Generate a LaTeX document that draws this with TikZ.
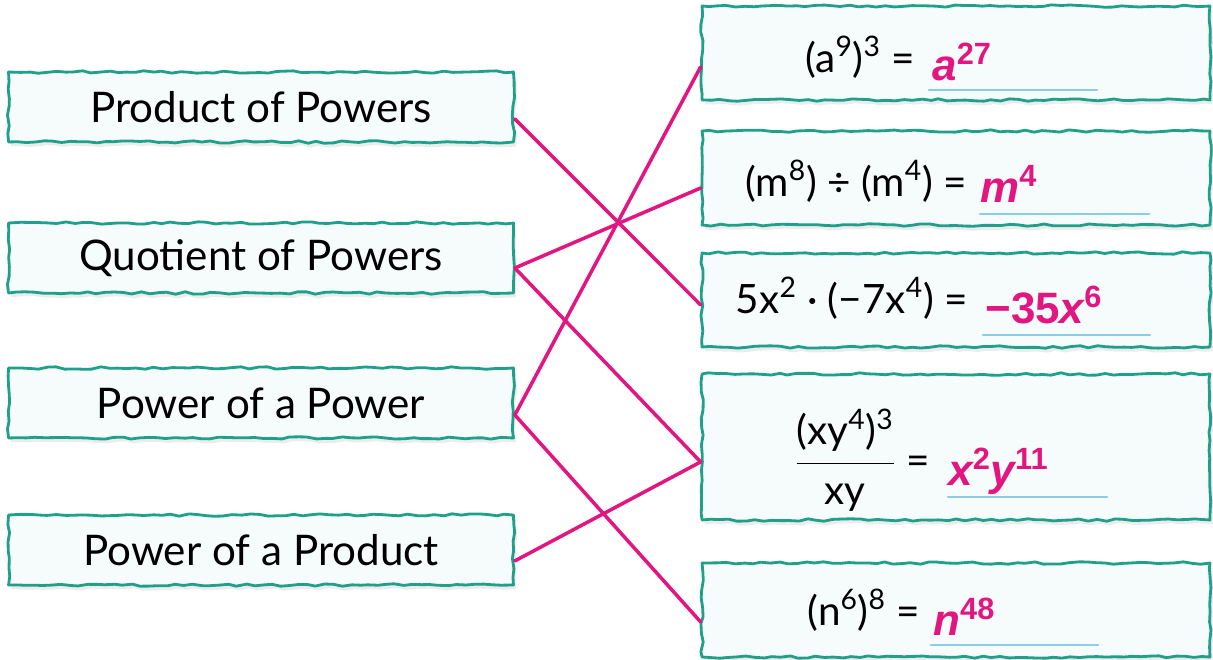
\documentclass[tikz,border=0pt]{standalone}
\usepackage{amsmath}
\usepackage{fontspec}
\setmainfont{Lato}
\newfontfamily\ansfont{Liberation Sans}
\usetikzlibrary{decorations.pathmorphing,shadows,positioning}
\definecolor{boxteal}{RGB}{32,160,138}
\definecolor{boxfill}{RGB}{246,252,252}
\definecolor{linkmag}{RGB}{226,22,128}
\definecolor{blankblue}{RGB}{140,205,230}
\newcommand{\up}[1]{\textsuperscript{#1}}
\tikzset{
  lbox/.style={draw=boxteal, line width=1.6pt, fill=boxfill,
    minimum width=10.1cm, minimum height=1.4cm,
    decorate, decoration={random steps, segment length=5pt, amplitude=0.7pt},
    drop shadow={opacity=0.15, shadow xshift=1.5pt, shadow yshift=-2.5pt},
    font=\fontsize{24}{28}\selectfont},
  rbox/.style={lbox, minimum width=10.16cm, minimum height=1.88cm},
  eqn/.style={font=\fontsize{23}{27}\selectfont, inner sep=0pt},
  ans/.style={font=\ansfont\bfseries\fontsize{25}{29}\selectfont, text=linkmag, inner sep=0pt},
  blank/.style={draw=blankblue, line width=1.3pt},
  link/.style={draw=linkmag, line width=2pt},
  every picture/.style={line cap=round, line join=round}
}
\pgfmathsetseed{7}
\begin{document}
\begin{tikzpicture}[x=0.02cm, y=-0.02cm]
  \useasboundingbox (0,0) rectangle (1213,659);

  % names of the rules
  \node[lbox] (pp) at (261,107) {Product of Powers};
  \node[lbox] (qp) at (261,258) {Quotient of Powers};
  \node[lbox] (pw) at (261,403) {Power of a Power};
  \node[lbox] (pr) at (261,550) {Power of a Product};

  % examples
  \node[rbox] (e1) at (956,53) {};
  \node[rbox] (e2) at (956,178) {};
  \node[rbox] (e3) at (956,300) {};
  \node[rbox, minimum height=2.92cm] (e4) at (956,447) {};
  \node[rbox] (e5) at (956,610) {};

  % answer blanks
  \draw[blank] (929,90) -- (1097,90);
  \draw[blank] (980,214) -- (1149,214);
  \draw[blank] (983,335) -- (1150,335);
  \draw[blank] (948,497) -- (1107,497);
  \draw[blank] (931,645) -- (1098,645);

  % equations and answers
  \node[eqn, anchor=base east] (q1) at (915,72) {(a\up{9})\up{3} =};
  \node[ans, anchor=base west] (a1) at (932,80) {\itshape a\up{\upshape 27}};
  \node[eqn, anchor=base east] (q2) at (967,196) {(m\up{8}) ÷ (m\up{4}) =};
  \node[ans, anchor=base west] (a2) at (980,202) {\itshape m\up{\upshape 4}};
  \node[eqn, anchor=base east] (q3) at (968,313) {5x\up{2} · (−7x\up{4}) =};
  \node[ans, anchor=base west] (a3) at (985,323) {−35\itshape x\up{\upshape 6}};
  \node[eqn, anchor=east] (q4) at (930,460) {$\dfrac{\text{(xy\up{4})\up{3}}}{\text{xy}}$ =};
  \node[ans, anchor=base west] (a4) at (948,485) {\itshape x\up{\upshape 2}y\up{\upshape 11}};
  \node[eqn, anchor=base east] (q5) at (920,625) {(n\up{6})\up{8} =};
  \node[ans, anchor=base west] (a5) at (933,635) {\itshape n\up{\upshape 48}};

  % matching lines
  \draw[link] ([yshift=-6.8pt]pp.east) -- ([yshift=-2.8pt]e3.west);
  \draw[link] ([yshift=-5.7pt]qp.east) -- ([yshift=-5.7pt]e2.west);
  \draw[link] ([yshift=-5.7pt]qp.east) -- ([yshift=-8.5pt]e4.west);
  \draw[link] ([yshift=-6.8pt]pw.east) -- ([yshift=-7.9pt]e1.west);
  \draw[link] ([yshift=-6.8pt]pw.east) -- ([yshift=-6.8pt]e5.west);
  \draw[link] ([yshift=-6.2pt]pr.east) -- ([yshift=-8.5pt]e4.west);
\end{tikzpicture}
\end{document}
